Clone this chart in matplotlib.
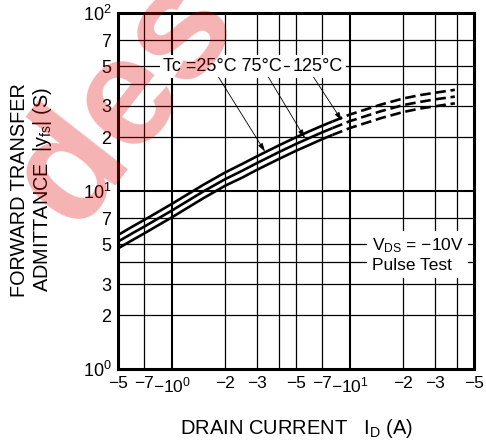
"""Forward transfer admittance |yfs| vs drain current, three case temperatures."""
import numpy as np
import matplotlib
matplotlib.use("Agg")
import matplotlib.pyplot as plt

plt.rcParams["font.family"] = ["Liberation Sans", "DejaVu Sans"]
plt.rcParams["mathtext.fontset"] = "custom"
plt.rcParams["mathtext.rm"] = "Liberation Sans"
plt.rcParams["mathtext.it"] = "Liberation Sans"

# |ID| (A) and |yfs| (S)
ID_SOLID = [0.5, 0.6, 0.7, 0.8, 1.0, 1.5, 2.0, 2.5, 3.0, 4.0, 5.0, 6.0, 7.0, 8.0]
YFS_25_SOLID = [5.66, 6.30, 6.87, 7.42, 8.45, 10.8, 12.7, 14.2, 15.6, 18.0, 20.0, 21.7, 23.2, 24.5]
YFS_75_SOLID = [5.20, 5.78, 6.30, 6.81, 7.75, 9.91, 11.65, 13.0, 14.3, 16.5, 18.35, 19.9, 21.3, 22.5]
YFS_125_SOLID = [4.76, 5.29, 5.77, 6.24, 7.10, 9.08, 10.7, 11.9, 13.1, 15.1, 16.8, 18.2, 19.5, 20.6]

ID_DASH = [8.0, 10.0, 15.0, 20.0, 25.0, 30.0, 39.0]
YFS_25_DASH = [24.5, 26.8, 30.5, 33.0, 34.5, 35.5, 36.9]
YFS_75_DASH = [22.5, 24.6, 28.0, 30.3, 31.6, 32.6, 33.8]
YFS_125_DASH = [20.6, 22.5, 25.6, 27.7, 29.0, 29.8, 31.0]

M = "\u2212"
X_TICKS = [0.5, 0.7, 1, 2, 3, 5, 7, 10, 20, 30, 50]
X_TICKLABELS = [M + "5", M + "7", M + "$10^{0}$", M + "2", M + "3", M + "5",
                M + "7", M + "$10^{1}$", M + "2", M + "3", M + "5"]
Y_TICKS = [1, 2, 3, 5, 7, 10, 20, 30, 50, 70, 100]
Y_TICKLABELS = ["$10^{0}$", "2", "3", "5", "7", "$10^{1}$", "2", "3", "5", "7", "$10^{2}$"]
X_GRID = [0.7, 1, 2, 3, 4, 5, 7, 10, 20, 30, 40]
Y_GRID = [2, 3, 4, 5, 7, 10, 20, 30, 40, 50, 70]

W, H = 486, 443
fig = plt.figure(figsize=(W / 100, H / 100), dpi=100)
ax = fig.add_axes([118.3 / W, 1 - 369 / H, (474 - 118.3) / W, (369 - 12.7) / H])
ax.set_xscale("log"); ax.set_yscale("log")
ax.set_xlim(0.5, 50); ax.set_ylim(1, 100)

for gx in X_GRID:
    ax.axvline(gx, color="black", lw=1.5 if gx in (1, 10) else 0.9, zorder=1)
for gy in Y_GRID:
    ax.axhline(gy, color="black", lw=1.5 if gy == 10 else 0.9, zorder=1)

for ys, yd in ((YFS_25_SOLID, YFS_25_DASH), (YFS_75_SOLID, YFS_75_DASH),
               (YFS_125_SOLID, YFS_125_DASH)):
    ax.plot(ID_SOLID, ys, color="black", lw=1.9, zorder=3, solid_capstyle="butt")
    ax.plot(ID_DASH, yd, color="black", lw=1.9, zorder=3, dashes=(4.0, 1.8))

ax.set_xticks(X_TICKS); ax.set_xticklabels(X_TICKLABELS)
ax.set_yticks(Y_TICKS); ax.set_yticklabels(Y_TICKLABELS)
ax.minorticks_off()
ax.tick_params(axis="x", length=0, labelsize=12.5, pad=5)
ax.tick_params(axis="y", length=0, labelsize=13, pad=5)
for s in ax.spines.values():
    s.set_linewidth(2.2)

box = dict(boxstyle="square,pad=0.15", fc="white", ec="none")
ax.text(0.89, 50, "Tc =25\u00b0C 75\u00b0C", fontsize=13, ha="left", va="center",
        bbox=box, zorder=4)
ax.text(4.8, 50, "125\u00b0C", fontsize=13, ha="left", va="center", bbox=box, zorder=4)
ax.text(13.3, 4.37, "V$_{\\rm DS}$ = " + M + "10V\nPulse Test", fontsize=12.5, ha="left",
        va="center", linespacing=1.25,
        bbox=dict(boxstyle="square,pad=0.25", fc="white", ec="none"), zorder=4)

arrow = dict(arrowstyle="-|>,head_length=0.5,head_width=0.15", color="black", lw=0.6,
             shrinkA=0, shrinkB=0)
for (x0, y0), (x1, y1) in (((1.83, 43.5), (3.34, 16.6)),
                           ((3.49, 43.5), (5.6, 19.8)),
                           ((6.26, 43.5), (9.03, 24.8))):
    ax.annotate("", xy=(x1, y1), xytext=(x0, y0), arrowprops=arrow, zorder=5)

fig.text(296 / W, 1 - 428.5 / H, "DRAIN CURRENT   I$_{\\rm D}$ (A)", fontsize=14.5,
         ha="center", va="center")
fig.text(20 / W, 1 - 190 / H, "FORWARD TRANSFER", fontsize=14.3, rotation=90,
         ha="center", va="center")
fig.text(43 / W, 1 - 190 / H, "ADMITTANCE  |y$_{\\rm fs}$| (S)", fontsize=14.3,
         rotation=90, ha="center", va="center")

# red site watermark in the top-left corner
fig.text(125 / W, 1 - 100 / H, "des", fontsize=112, fontweight="bold", color="#e00000",
         alpha=0.3, rotation=52, ha="center", va="center", zorder=10)

fig.savefig("out.png", dpi=100)
